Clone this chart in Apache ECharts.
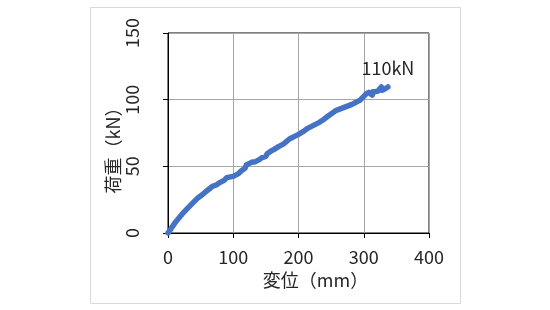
<!DOCTYPE html>
<html><head><meta charset="utf-8">
<script src="https://cdn.jsdelivr.net/npm/echarts@6/dist/echarts.min.js"></script>
<style>html,body{margin:0;padding:0;background:#fff}#c{width:550px;height:310px}</style>
</head><body><div id="c"></div>
<script>
const displacement = [0, 3, 7, 12, 18, 24, 28, 34, 40, 45, 52, 58, 63, 66, 68, 74, 80, 86, 90, 92, 100, 108, 112, 114, 118, 120, 122, 124, 126, 128, 130, 134, 137, 140, 144, 146, 150, 152, 158, 162, 164, 170, 176, 180, 182, 186, 188, 194, 200, 207, 214, 220, 226, 232, 238, 245, 252, 258, 266, 274, 282, 286, 288, 290, 292, 294, 296, 300, 304, 306, 308, 310, 311, 313, 314, 316, 318, 322, 325, 327, 328, 330, 331, 334, 337];
const load = [0, 2, 5, 8.5, 12, 15.5, 17.5, 20.5, 23.5, 26, 28.5, 31, 33, 34.5, 35, 36, 38, 39.5, 41.5, 41, 42.5, 44.5, 46.5, 47, 48.5, 51, 50, 52, 51, 53, 52.5, 53.5, 53, 55, 56.5, 58, 57.5, 59.5, 61.5, 62.5, 63.5, 65, 66.5, 68, 67.5, 70.5, 70.5, 72.5, 74, 76, 78.5, 80, 81.5, 83, 85, 87.5, 90, 92, 93.5, 95, 96.5, 97.5, 97, 98.5, 97.5, 99.5, 101, 102.5, 104.5, 103.5, 105.5, 104, 106.5, 103.5, 106, 104.5, 106, 106.5, 108, 109.5, 107, 108.5, 107.5, 108.5, 109.5];
const xTicks = [0, 100, 200, 300, 400];
const yTicks = [0, 50, 100, 150];
const peakLabel = '110kN';

const font = '"Noto Sans CJK JP", "Noto Sans", sans-serif';
const txt = '#262626';
const chart = echarts.init(document.getElementById('c'), null, {renderer: 'canvas'});
const pts = displacement.map((x, i) => [x, load[i]]);
chart.setOption({
  backgroundColor: '#fff',
  animation: false,
  graphic: [{type: 'rect', shape: {x: 90.5, y: 7.5, width: 370, height: 296}, style: {fill: 'none', stroke: '#d9d9d9', lineWidth: 1}, silent: true}],
  grid: {left: 168, right: 121, top: 33, bottom: 77, show: true, borderColor: '#000', borderWidth: 1},
  xAxis: {
    type: 'value', min: xTicks[0], max: xTicks[xTicks.length - 1], interval: 100,
    name: '変位（mm）', nameLocation: 'middle', nameGap: 38,
    nameTextStyle: {fontFamily: font, fontSize: 18, color: txt, padding: [0, 0, 0, 34]},
    axisLine: {show: true, lineStyle: {color: '#000', width: 1}},
    axisTick: {show: true, length: 5, lineStyle: {color: '#000'}},
    axisLabel: {fontFamily: font, fontSize: 18, color: txt, margin: 15},
    splitLine: {show: true, lineStyle: {color: '#a6a6a6', width: 1}}
  },
  yAxis: {
    type: 'value', min: yTicks[0], max: yTicks[yTicks.length - 1], interval: 50,
    name: '荷重（kN）', nameLocation: 'middle', nameGap: 46, nameRotate: 90,
    nameTextStyle: {fontFamily: font, fontSize: 18, color: txt, padding: [0, 26, 0, 0]},
    axisLine: {show: true, lineStyle: {color: '#000', width: 1}},
    axisTick: {show: true, length: 5, lineStyle: {color: '#000'}},
    axisLabel: {fontFamily: font, fontSize: 18, color: txt, rotate: 90, margin: 27},
    splitLine: {show: true, lineStyle: {color: '#a6a6a6', width: 1}}
  },
  series: [{
    type: 'line', data: pts, showSymbol: false, smooth: false,
    lineStyle: {color: '#4472c4', width: 5.5, cap: 'round', join: 'round'},
    markPoint: {
      symbol: 'circle', symbolSize: 0,
      data: [{coord: pts[pts.length - 1], value: peakLabel}],
      label: {show: true, position: 'top', distance: 10, formatter: peakLabel, fontFamily: font, fontSize: 18, color: txt}
    }
  }]
});
</script></body></html>
